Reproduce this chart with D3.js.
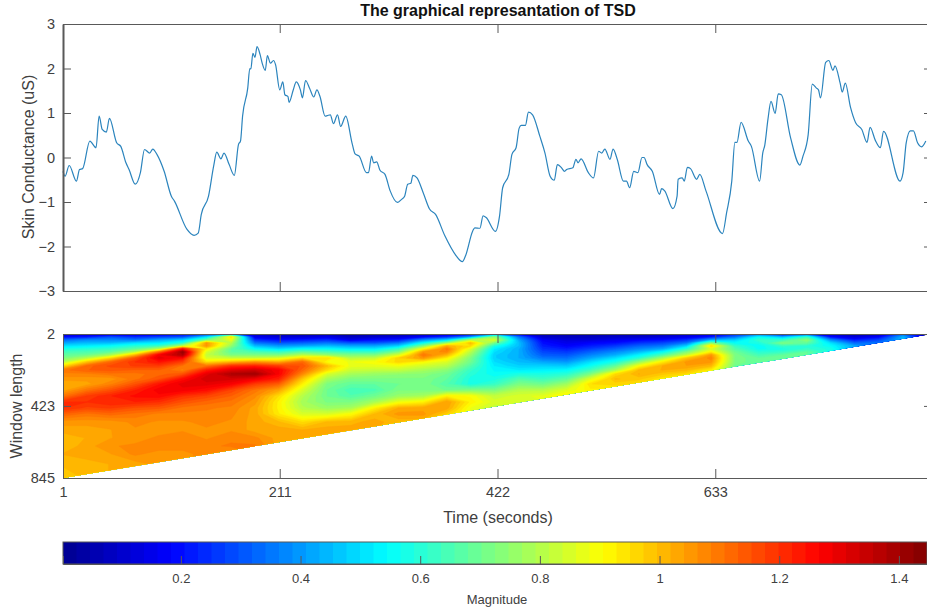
<!DOCTYPE html>
<html>
<head>
<meta charset="utf-8">
<script src="https://cdn.jsdelivr.net/npm/d3@7"></script>
<style>
    html, body { margin: 0; padding: 0; background: #fff; overflow: hidden; }
    svg { display: block; font-family: "Liberation Sans", Arial, sans-serif; }
    .axis path, .axis line { stroke: #595959; }
    .axis text { fill: #404040; font-size: 14.5px; font-family: "Liberation Sans", Arial, sans-serif; }
    .label { fill: #404040; font-size: 16px; }
</style>
</head>
<body>
<svg id="chart" width="927" height="611"></svg>
<script>
// skin conductance trace
var traceTimes = [1,3,7,14,17,20,27,33,36,39,43,46,53,57,62,65,71,76,80,85,88,92,99,106,109,121,128,132,135,142,147,150,154,157,162,167,171,173,175,180,182,183,185,187,189,192,194,197,199,202,205,207,211,214,216,219,220,224,227,231,233,236,240,
    244,247,250,255,257,260,263,267,270,275,281,284,288,295,297,300,302,305,308,313,318,325,329,332,335,338,340,344,350,356,362,371,382,388,391,398,400,405,408,411,420,424,427,433,436,440,443,445,449,452,456,463,468,473,477,480,484,487,489,495,498,500,503,510,515,520,523,526,531,534,538,
    544,547,550,554,558,562,564,567,572,579,581,584,592,596,597,601,603,606,609,615,618,624,640,644,649,652,654,658,665,668,676,679,681,684,687,691,694,697,706,715,718,723,727,731,733,735,740,743,747,749,754,756,759,764,769,775,780,783,788,793,796,812,815,818,822,825,829,833,837];
var traceValues = [-0.31,-0.42,-0.18,-0.53,-0.27,-0.25,0.37,0.22,0.93,0.63,0.57,0.88,0.33,0.25,-0.12,-0.27,-0.6,-0.34,0.18,0.1,0.19,0.07,-0.31,-0.87,-0.98,-1.61,-1.75,-1.7,-1.28,-0.87,-0.19,0.12,-0.03,0.1,-0.16,-0.4,0.29,0.37,0.93,1.56,2,1.99,2.34,2.25,2.49,2.31,2.12,1.96,2.29,2.12,2.18,2.08,1.52,1.7,1.41,1.37,1.24,1.51,1.7,1.52,1.34,1.73,1.55,
    1.36,1.52,1.37,0.93,0.94,0.96,0.76,0.96,0.7,0.93,0.33,0.08,0.03,-0.34,-0.34,0.03,-0.12,-0.1,-0.28,-0.38,-0.75,-1.01,-0.94,-0.87,-0.6,-0.58,-0.4,-0.46,-0.79,-1.15,-1.28,-1.76,-2.21,-2.34,-2.21,-1.65,-1.58,-1.59,-1.31,-1.35,-1.66,-1.31,-0.68,-0.38,0.07,0.22,0.66,0.72,0.72,1.02,0.96,0.48,0.1,-0.42,-0.51,-0.16,-0.23,-0.31,-0.27,-0.23,-0.04,-0.12,-0.03,-0.34,-0.46,0.14,0.1,0.19,-0.04,0.19,-0.04,
    -0.53,-0.53,-0.68,-0.31,-0.34,0,0,-0.16,-0.31,-0.83,-0.7,-0.75,-1.15,-0.87,-0.49,-0.46,-0.53,-0.22,-0.25,-0.49,-0.38,-0.75,-1.71,-1.24,-0.53,0.34,0.34,0.79,0.37,0.25,-0.53,0.1,0.28,0.85,1.26,0.99,1.43,1.41,0.44,-0.17,0.03,0.51,1.65,1.56,1.52,1.34,2.14,2.18,1.96,2.06,1.67,1.47,1.67,1.13,0.78,0.63,0.34,0.68,0.39,0.22,0.59,-0.53,-0.34,0.33,0.6,0.6,0.33,0.24,0.37];

var timeTicks = [1, 211, 422, 633];
var conductanceTicks = [-3, -2, -1, 0, 1, 2, 3];
var windowTicks = [2, 423, 845];
var magnitudeTicks = [0.2, 0.4, 0.6, 0.8, 1, 1.2, 1.4];

// grid of the scalogram: one list per column of heatTimes, running down heatWindows
// a column stops just under the diagonal, the rest gets clipped anyway
var heatTimes = [1,24,47,71,94,117,140,164,187,210,233,257,280,303,326,350,373,396,419,443,466,489,512,536,559,582,605,629,652,675,698,722,745,768,791,815,838];
var heatWindows = [2,20,37,55,72,90,107,125,143,166,189,213,236,265,295,330,365,400,435,470,517,564,611,658,704,763,845];
var heatColumns = [
    [.05,.2,.33,.42,.5,.58,.64,.68,.72,.8,.95,1.1,1.08,1.05,1.02,1.03,1.1,1.2,1.2,1.13,1.05,1.03,1,1,1.02,1,.98],
    [.08,.22,.38,.45,.52,.6,.65,.7,.8,.98,1.12,1.13,1.08,1.05,1.03,1.1,1.18,1.2,1.17,1.1,1.05,1.03,1.02,1.03,1.04,1,1],
    [.08,.3,.38,.45,.55,.62,.68,.78,.95,1.12,1.16,1.14,1.1,1.05,1.08,1.15,1.22,1.22,1.18,1.12,1.05,1.04,1.04,1.06,1.04,1.02],
    [.1,.25,.35,.5,.6,.68,.8,1,1.15,1.2,1.18,1.13,1.1,1.1,1.15,1.22,1.25,1.22,1.15,1.1,1.07,1.06,1.05,1.07,1.07,1.03],
    [.1,.28,.42,.52,.62,.8,1.1,1.28,1.3,1.24,1.18,1.13,1.12,1.15,1.24,1.28,1.26,1.2,1.14,1.08,1.06,1.05,1.07,1.08,1.05],
    [.15,.3,.48,.6,.8,1.25,1.42,1.38,1.25,1.17,1.1,1.08,1.15,1.25,1.3,1.28,1.2,1.15,1.1,1.08,1.06,1.06,1.08,1.08,1.05],
    [.2,.5,.7,1.05,1.05,.92,.85,.82,.85,.95,1.1,1.22,1.3,1.33,1.3,1.25,1.17,1.12,1.09,1.08,1.07,1.06,1.06,1.08,1.08],
    [.3,.95,.88,.8,.75,.68,.68,.72,.82,1,1.2,1.3,1.38,1.32,1.27,1.17,1.13,1.1,1.08,1.07,1.06,1.06,1.08,1.09,1.05],
    [.08,.15,.25,.35,.45,.55,.65,.72,.82,1.05,1.22,1.33,1.4,1.28,1.18,1.1,1.07,1.05,1.03,1.03,1.03,1.03,1.07,1.09],
    [.05,.12,.2,.3,.4,.5,.62,.72,.85,1.02,1.18,1.27,1.27,1.22,1.13,1.03,.95,.92,.92,.93,1,1.03,1.03],
    [.05,.12,.22,.32,.42,.55,.68,.8,.95,1.12,1.15,1.12,1.07,.98,.92,.85,.8,.78,.8,.85,.95,1.02,1.03],
    [.05,.15,.25,.35,.45,.55,.65,.75,.95,.9,1,.95,.85,.78,.72,.7,.7,.72,.76,.85,1,1.03,1.03],
    [.03,.08,.15,.3,.42,.52,.62,.72,.8,.88,.87,.83,.78,.72,.68,.64,.66,.72,.78,.9,1.01,1.03],
    [.05,.1,.2,.3,.42,.52,.62,.72,.82,.9,.87,.82,.76,.72,.68,.65,.7,.78,.92,1,1.03,1.02],
    [.05,.12,.22,.35,.48,.62,.72,.85,.97,.96,.88,.82,.75,.72,.7,.72,.76,.88,1.02,1.05,1],
    [.05,.18,.38,.55,.72,.9,1.05,1.1,1.05,.9,.84,.78,.74,.72,.72,.72,.78,.92,1.03,1.05,1],
    [.08,.25,.48,.75,1.02,1.1,1.07,1,.92,.85,.8,.74,.7,.68,.66,.7,.92,1.04,1.03,.97],
    [.1,.4,.8,1,.95,.85,.8,.76,.72,.7,.66,.62,.6,.58,.58,.72,.9,.92,.88],
    [.3,.75,.85,.7,.58,.52,.5,.48,.48,.5,.52,.54,.55,.58,.62,.72,.82,.85,.82],
    [.1,.35,.42,.45,.45,.43,.43,.43,.43,.45,.48,.52,.58,.66,.72,.8,.85,.85,.83],
    [.05,.1,.17,.2,.22,.25,.28,.31,.35,.42,.48,.53,.58,.63,.7,.8,.87,.86],
    [.05,.08,.12,.15,.18,.22,.26,.3,.34,.4,.47,.54,.6,.68,.77,.86,.92],
    [.05,.08,.12,.18,.22,.27,.32,.37,.42,.5,.56,.63,.72,.86,.95,.92,.9],
    [.05,.1,.15,.2,.26,.32,.38,.43,.5,.58,.68,.78,.95,1,.96,.92],
    [.05,.1,.18,.25,.32,.38,.45,.53,.6,.75,.9,1,1.02,.98,.95],
    [.06,.12,.2,.28,.35,.43,.55,.65,.78,.93,1.02,1.02,.98,.93],
    [.08,.15,.25,.35,.48,.6,.72,.82,.98,1.05,1.04,1,.95],
    [.1,.22,.42,.72,.95,.85,.92,1.05,1.08,1.05,1,.92],
    [.2,.35,.48,.55,.62,.66,.7,.72,.72,.72,.7],
    [.3,.55,.62,.58,.55,.56,.6,.64,.68,.68],
    [.08,.45,.62,.72,.62,.58,.62,.68,.68],
    [.2,.62,.75,.68,.6,.62,.68,.68],
    [.08,.2,.38,.5,.55,.58,.58],
    [.05,.12,.22,.33,.42,.42],
    [.06,.18,.28,.35],
    [.3,.45,.45],
    [.08,.08]
];

var jetStops = ["#00008f", "#0000ff", "#00ffff", "#ffff00", "#ff0000", "#800000"];
var magnitudeRange = [0.003, 1.447];
var levelCount = 64;

var left = 63, right = 932;
var svg = d3.select("#chart");

var x = d3.scaleLinear().domain([1, 843]).range([left, right]);
var ySkin = d3.scaleLinear().domain([-3, 3]).range([291, 24]);
var yWindow = d3.scaleLinear().domain([2, 845]).range([334, 478]);

var jet = d3.scaleLinear().domain([0, 1/8, 3/8, 5/8, 7/8, 1]).range(jetStops);
var levels = d3.range(levelCount);
var levelColor = function (i) { return jet((i + 0.5) / levelCount); };
var levelStart = function (i) {
    return magnitudeRange[0] + i * (magnitudeRange[1] - magnitudeRange[0]) / levelCount;
};

// axes in the matlab look: ticks pointing in, box all round
var drawBox = function (yScale, yTicks, showX) {
    var top = d3.min(yScale.range());
    var bottom = d3.max(yScale.range());
    var g = svg.append("g");

    g.append("g").attr("class", "axis").attr("transform", "translate(0," + bottom + ")")
        .call(d3.axisBottom(x).tickValues(timeTicks).tickSizeInner(-9).tickSizeOuter(0).tickPadding(9)
            .tickFormat(showX ? d3.format("d") : ""));
    g.append("g").attr("class", "axis").attr("transform", "translate(0," + top + ")")
        .call(d3.axisTop(x).tickValues(timeTicks).tickSizeInner(-9).tickSizeOuter(0).tickFormat(""));
    g.append("g").attr("class", "axis").attr("transform", "translate(" + left + ",0)")
        .call(d3.axisLeft(yScale).tickValues(yTicks).tickSizeInner(-8).tickSizeOuter(0).tickPadding(8).tickFormat(d3.format("d")));
    g.append("g").attr("class", "axis").attr("transform", "translate(" + right + ",0)")
        .call(d3.axisRight(yScale).tickValues(yTicks).tickSizeInner(-8).tickSizeOuter(0).tickFormat(""));
    return g;
};

// top panel
var line = d3.line()
    .curve(d3.curveMonotoneX)
    .x(function (d) { return x(d[0]); })
    .y(function (d) { return ySkin(d[1]); });

svg.append("path")
    .datum(d3.zip(traceTimes, traceValues))
    .attr("fill", "none")
    .attr("stroke", "#2b84bd")
    .attr("stroke-width", 1.2)
    .attr("stroke-linejoin", "round")
    .attr("d", line);

var topBox = drawBox(ySkin, conductanceTicks, false);
topBox.select(".axis:nth-child(3) path.domain").attr("stroke-width", 2).attr("stroke", "#777");

// scalogram, contour bands clipped to the valid triangle t + w <= 845
var rows = heatWindows.length, cols = heatTimes.length;
var flat = new Array(rows * cols);
heatColumns.forEach(function (col, c) {
    for (var r = 0; r < rows; r++) {
        flat[r * cols + c] = r < col.length ? col[r] : col[col.length - 1];
    }
});

var colToTime = d3.scaleLinear().domain(d3.range(cols).map(function (i) { return i + 0.5; })).range(heatTimes);
var rowToWindow = d3.scaleLinear().domain(d3.range(rows).map(function (i) { return i + 0.5; })).range(heatWindows);

var gridPath = d3.geoPath(d3.geoTransform({
    point: function (gx, gy) {
        this.stream.point(x(colToTime(gx)), yWindow(Math.max(2, rowToWindow(gy))));
    }
}));

var contours = d3.contours()
    .size([cols, rows])
    .thresholds(levels.map(levelStart))(flat);

var triangle = [[1, 845], [843, 2], [1, 2]];
svg.append("clipPath").attr("id", "valid")
    .append("polygon")
    .attr("points", triangle.map(function (d) { return x(d[0]) + "," + yWindow(d[1]); }).join(" "));

svg.append("g").attr("clip-path", "url(#valid)")
    .selectAll("path")
    .data(contours)
    .join("path")
    .attr("d", gridPath)
    .attr("fill", function (d, i) { return levelColor(i); })
    .attr("stroke", function (d, i) { return levelColor(i); })
    .attr("stroke-width", 0.4);

drawBox(yWindow, windowTicks, true);

// colorbar
var barScale = d3.scaleLinear().domain(magnitudeRange).range([63, 927]);
var barBand = d3.scaleBand().domain(levels).range([63, 927]);
svg.append("g").selectAll("rect")
    .data(levels)
    .join("rect")
    .attr("x", function (d) { return barBand(d); })
    .attr("y", 542)
    .attr("width", barBand.bandwidth() + 0.5)
    .attr("height", 22)
    .attr("fill", levelColor);

var barAxis = svg.append("g").attr("class", "axis").attr("transform", "translate(0,564)")
    .call(d3.axisBottom(barScale).tickValues(magnitudeTicks).tickSize(-8).tickPadding(10).tickFormat(d3.format("")));
barAxis.selectAll("text").style("font-size", "13px");
svg.append("rect").attr("x", 63).attr("y", 542).attr("width", 864).attr("height", 22)
    .attr("fill", "none").attr("stroke", "#595959");

// texts
svg.append("text").attr("x", 498).attr("y", 16).attr("text-anchor", "middle")
    .attr("font-weight", "bold").attr("font-size", 16).attr("fill", "#111")
    .text("The graphical represantation of TSD");
svg.append("text").attr("class", "label").attr("text-anchor", "middle")
    .attr("transform", "translate(34,157) rotate(-90)")
    .text("Skin Conductance (uS)");
svg.append("text").attr("class", "label").attr("text-anchor", "middle")
    .attr("transform", "translate(22,406) rotate(-90)")
    .text("Window length");
svg.append("text").attr("class", "label").attr("x", 498).attr("y", 523).attr("text-anchor", "middle")
    .text("Time (seconds)");
svg.append("text").attr("class", "label").attr("x", 497).attr("y", 604).attr("text-anchor", "middle")
    .style("font-size", "13px")
    .text("Magnitude");
</script>
</body>
</html>
